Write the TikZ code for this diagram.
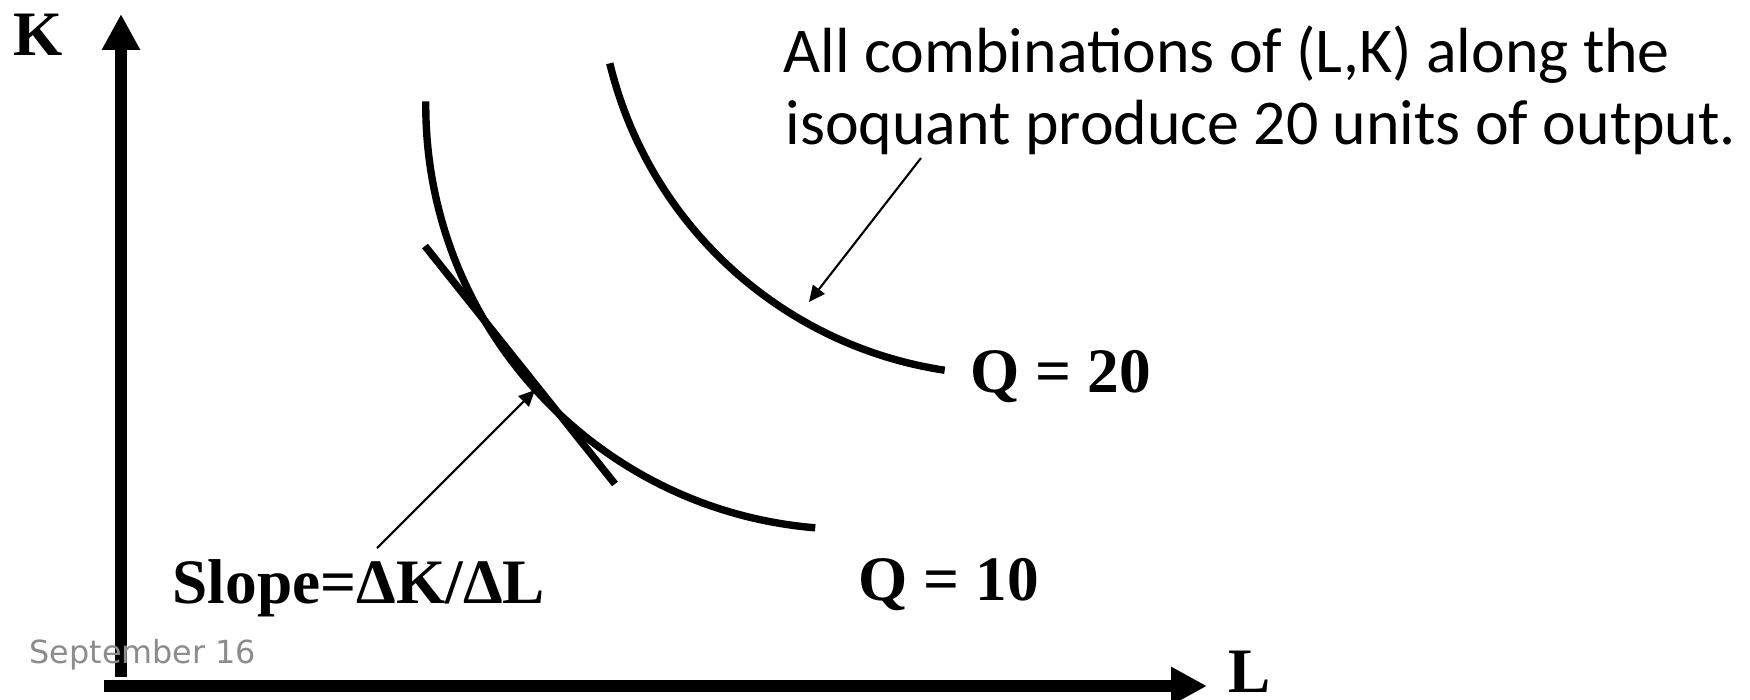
\documentclass[tikz,border=0pt]{standalone}
\usepackage{fontspec}
\setmainfont{Liberation Serif}
\newfontfamily\calib{Carlito}
\newfontfamily\dvs{DejaVu Sans}
\usetikzlibrary{arrows.meta}
\definecolor{dategray}{RGB}{140,140,140}
\begin{document}
\begin{tikzpicture}[x=0.01cm,y=-0.01cm,
  axisline/.style={line width=3.4pt,-{Triangle[length=10.2pt,width=10.2pt]}},
  curveline/.style={line width=2.1pt},
  thinarrow/.style={line width=0.6pt,-{Triangle[length=4.6pt,width=4.2pt]}},
  boldlab/.style={inner sep=0pt,anchor=base west,font=\fontsize{18pt}{20pt}\selectfont\bfseries},
  calloutlab/.style={inner sep=0pt,anchor=base west,font=\calib\fontsize{18.15pt}{20pt}\selectfont},
  datelab/.style={inner sep=0pt,anchor=base west,text=dategray,font=\dvs\fontsize{9.05pt}{11pt}\selectfont}]
\useasboundingbox (0,0) rectangle (1750,699);
% axes
\coordinate (yorig) at (121,677);
\coordinate (ytip) at (121,14);
\coordinate (xorig) at (104,686);
\coordinate (xtip) at (1207,686);
\draw[axisline] (yorig) -- (ytip);
\draw[axisline] (xorig) -- (xtip);
\node[boldlab] (K) at (13,55) {K};
\node[boldlab] (L) at (1228,692) {L};
% isoquants
\coordinate (c10) at (850,105);
\coordinate (c20) at (1005.6,-32.4);
\draw[curveline] ([shift={(179.5:4.24cm)}]c10) arc[start angle=179.5,end angle=265.3,radius=4.24cm];
\draw[curveline] ([shift={(193.6:4.07cm)}]c20) arc[start angle=193.6,end angle=261.4,radius=4.07cm];
% tangent line
\coordinate (ta) at (425,246);
\coordinate (tb) at (615,484);
\draw[curveline] (ta) -- (tb);
% labels
\node[boldlab] (q20) at (970,392) {Q = 20};
\node[boldlab] (q10) at (858,600) {Q = 10};
\node[boldlab] (slope) at (172,603) {Slope=ΔK/ΔL};
\node[calloutlab] (callA) at (783,72) {All combinations of (L,K) along the};
\node[calloutlab] (callB) at (785,144) {isoquant produce 20 units of output.};
\node[datelab] (date) at (29,663) {September 16};
% pointer arrows
\coordinate (slfrom) at (377,548);
\coordinate (tpoint) at (535,390);
\draw[thinarrow] (slfrom) -- (tpoint);
\coordinate (cafrom) at (921,158);
\coordinate (capoint) at (809,302);
\draw[thinarrow] (cafrom) -- (capoint);
\end{tikzpicture}
\end{document}
